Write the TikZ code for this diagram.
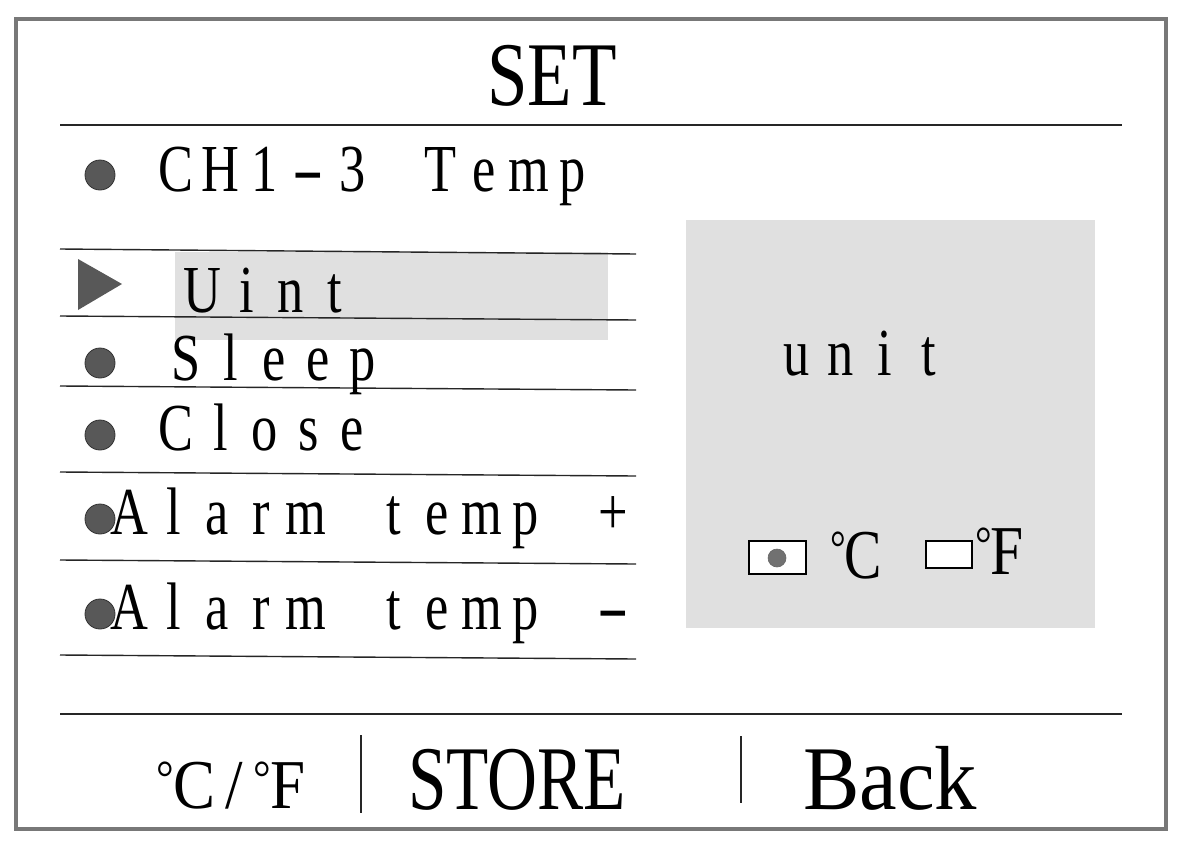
\documentclass[tikz,border=0pt]{standalone}
\usepackage{fontspec}
\usepackage{graphicx}
\setmainfont{Liberation Serif}
\newfontfamily\monof[FakeStretch=0.78]{Liberation Serif}
\definecolor{framegray}{HTML}{787878}
\definecolor{panelgray}{HTML}{E0E0E0}
\definecolor{dotgray}{HTML}{585858}
\newcommand\widehy{\scalebox{1.8}[1]{-}}
\newcommand\smalldeg{\raisebox{0.2em}{\scalebox{0.7}{°}}\kern-0.02em}
\newcommand\monostr[1]{\monoloop#1\relax}
\def\monoloop#1{\ifx#1\relax\else\makebox[22pt][c]{#1}\expandafter\monoloop\fi}
\begin{document}
\begin{tikzpicture}[x=0.5pt,y=-0.5pt,
  menu/.style={anchor=base west, inner sep=0pt, font=\monof\fontsize{33.6}{34}\selectfont},
  bullet/.style={circle, fill=dotgray, draw=black!80, line width=0.4pt, minimum size=15pt, inner sep=0pt},
  sep/.style={line width=0.7pt, draw=black!85},
  big/.style={anchor=base, inner sep=0pt, font=\fontsize{45.5}{46}\selectfont},
  unitsym/.style={anchor=base west, inner sep=0pt, font=\fontsize{35}{35}\selectfont},
  radio/.style={draw=black, line width=0.6pt, fill=white}]
\useasboundingbox (0,0) rectangle (1182,846);
\fill[white] (0,0) rectangle (1182,846);
% outer frame
\draw[framegray, line width=2pt] (16,19) rectangle (1166,829);
% header
\node[big] (title) at (552,105) {\scalebox{0.8}[1]{SET}};
\draw[sep] (60,125) -- (1122,125);
% highlight and right panel
\fill[panelgray] (175,252) rectangle (608,340);
\fill[panelgray] (686,220) rectangle (1095,628);
% list separators
\draw[sep] (60,249) -- (636,254);
\draw[sep] (60,316) -- (636,320);
\draw[sep] (60,386) -- (636,390);
\draw[sep] (60,472) -- (636,476);
\draw[sep] (60,560) -- (636,564);
\draw[sep] (60,655) -- (636,659);
% list entries
\node[bullet] (b0) at (100,175) {};
\node[menu] (m0) at (154,191) {\monostr{CH1\widehy3~Temp}};
\fill[dotgray] (78,259) -- (122,284) -- (78,310) -- cycle;
\node[menu] (m1) at (180,312) {\monostr{Uint}};
\node[bullet] (b2) at (100,363) {};
\node[menu] (m2) at (164,380) {\monostr{Sleep}};
\node[bullet] (b3) at (100,435) {};
\node[menu] (m3) at (154,450) {\monostr{Close}};
\node[bullet] (b4) at (100,519) {};
\node[menu] (m4) at (107,534) {\monostr{Alarm~temp~+}};
\node[bullet] (b5) at (100,614) {};
\node[menu] (m5) at (107,629) {\monostr{Alarm~temp~\widehy}};
% right panel content
\node[menu] (unit) at (774,375) {\monostr{unit}};
\draw[radio] (749,541) rectangle (806,574);
\node[circle, fill=dotgray!85, draw=black!60, line width=0.3pt, minimum size=9pt, inner sep=0pt] (dot) at (777,558) {};
\node[unitsym] (degc) at (830,578) {\scalebox{0.8}[1]{\smalldeg C}};
\draw[radio] (926,541) rectangle (972,568);
\node[unitsym] (degf) at (975,574) {\scalebox{0.85}[1]{\smalldeg F}};
% footer
\draw[sep] (60,714) -- (1122,714);
\draw[sep] (361,735) -- (361,813);
\draw[sep] (741,736) -- (741,803);
\node[anchor=base, inner sep=0pt, font=\fontsize{35}{35}\selectfont] (cf) at (231,808) {\scalebox{0.9}[1]{\smalldeg C\,/\,\smalldeg F}};
\node[big] (store) at (517,809) {\scalebox{0.76}[1]{STORE}};
\node[big] (back) at (890,809) {\scalebox{0.93}[1]{Back}};
\end{tikzpicture}
\end{document}
